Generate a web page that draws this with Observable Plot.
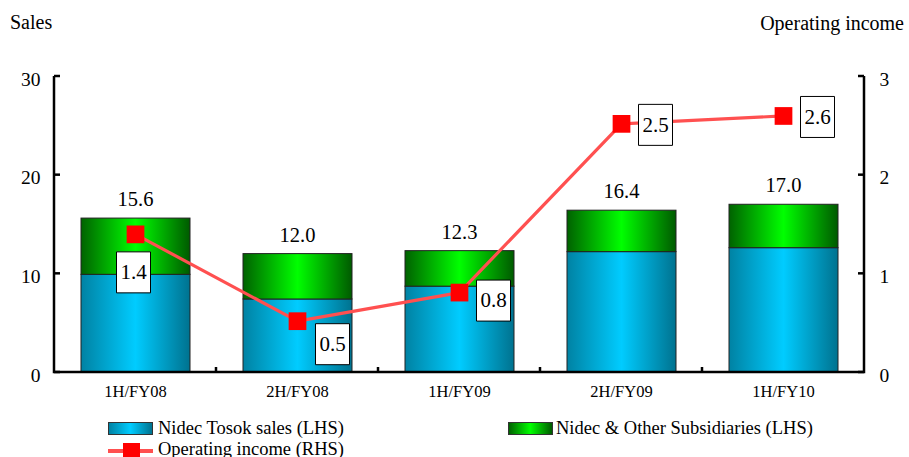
<!DOCTYPE html>
<html>
<head>
<meta charset="utf-8">
<script src="https://cdn.jsdelivr.net/npm/d3@7"></script>
<script src="https://cdn.jsdelivr.net/npm/@observablehq/plot@0.6"></script>
<style>
  body { margin: 0; background: #fff; }
  #wrap { position: relative; width: 909px; height: 457px; overflow: hidden;
          font-family: "Liberation Serif", "DejaVu Serif", serif; color: #000; }
  #wrap svg { position: absolute; left: 0; top: 0; }
  #wrap svg, #wrap svg text { font-family: "Liberation Serif", "DejaVu Serif", serif !important; }
  .t { position: absolute; line-height: 1; white-space: nowrap; font-family: "Liberation Serif", "DejaVu Serif", serif; }
  .hdr { font-size: 20px; }
  .leg { font-size: 18.5px; }
  .sw { position: absolute; box-sizing: border-box; border: 1px solid #333; }
</style>
</head>
<body>
<div id="wrap"></div>
<script>
// ---- data ----
const categories = ["1H/FY08", "2H/FY08", "1H/FY09", "2H/FY09", "1H/FY10"];
const tosokSales = [9.9, 7.4, 8.7, 12.2, 12.6];        // Nidec Tosok sales (LHS)
const totalSales = [15.6, 12.0, 12.3, 16.4, 17.0];     // total of stacked bar (LHS)
const operatingIncome = [1.4, 0.52, 0.81, 2.52, 2.6];  // Operating income (RHS)
const leftTicks = [0, 10, 20, 30];
const rightTicks = [0, 1, 2, 3];
const seriesNames = ["Nidec Tosok sales (LHS)", "Nidec & Other Subsidiaries (LHS)", "Operating income (RHS)"];
const axisTitles = ["Sales", "Operating income"];
const rhsFactor = 10; // right axis 0–3 is drawn on the left 0–30 scale

const data = categories.map((c, i) => ({
  cat: c, tosok: tosokSales[i], total: totalSales[i], op: operatingIncome[i]
}));

const serif = "Liberation Serif";
const blueStops = ["#0082a3", "#00ccff", "#00728f"];
const greenStops = ["#006200", "#00ff00", "#005a00"];
const lineColor = "#ff5050";

// gradients definition mark
function defs() {
  const g = d3.create("svg:defs");
  [["gBlue", blueStops], ["gGreen", greenStops]].forEach(([id, stops]) => {
    const lg = g.append("linearGradient").attr("id", id)
      .attr("x1", 0).attr("x2", 1).attr("y1", 0).attr("y2", 0);
    lg.append("stop").attr("offset", "0%").attr("stop-color", stops[0]);
    lg.append("stop").attr("offset", "50%").attr("stop-color", stops[1]);
    lg.append("stop").attr("offset", "100%").attr("stop-color", stops[2]);
  });
  return g.node();
}

// axis lines with inward ticks
function axes(index, scales, values, dims) {
  const {width, height, marginLeft, marginRight, marginBottom} = dims;
  const y = scales.y;
  const xl = marginLeft, xr = width - marginRight, yb = height - marginBottom;
  const step = (xr - xl) / categories.length;
  const g = d3.create("svg:g").attr("fill", "none").attr("stroke", "#000").attr("stroke-width", 2.5);
  g.append("path").attr("d", `M${xl},${y(leftTicks[leftTicks.length - 1])}V${yb}H${xr}V${y(rightTicks[rightTicks.length - 1] * rhsFactor)}`);
  leftTicks.forEach(v => g.append("path").attr("d", `M${xl},${y(v)}h6`));
  rightTicks.forEach(v => g.append("path").attr("d", `M${xr},${y(v * rhsFactor)}h-6`));
  for (let i = 1; i < categories.length; i++) {
    g.append("path").attr("d", `M${xl + i * step},${yb}v-5`);
  }
  return g.node();
}

const boxSymbol = { draw(ctx) { ctx.rect(-17, -20.5, 34, 41); } };
const opY = d => d.op * rhsFactor;
const labelGroups = [
  {idx: [0], dx: -2, dy: 38},
  {idx: [1], dx: 35, dy: 23},
  {idx: [2], dx: 34, dy: 8},
  {idx: [3, 4], dx: 34, dy: 1}
];

const chart = Plot.plot({
  width: 909,
  height: 457,
  marginLeft: 54,
  marginRight: 45,
  marginTop: 76,
  marginBottom: 85,
  x: {type: "band", domain: categories, padding: 0, axis: null},
  y: {domain: [0, 30], axis: null},
  style: {fontFamily: serif, background: "#fff", color: "#000"},
  marks: [
    defs,
    Plot.barY(data, {x: "cat", y1: () => 0, y2: "tosok", fill: "url(#gBlue)", stroke: "#222", strokeWidth: 1, insetLeft: 27, insetRight: 26}),
    Plot.barY(data, {x: "cat", y1: "tosok", y2: "total", fill: "url(#gGreen)", stroke: "#222", strokeWidth: 1, insetLeft: 27, insetRight: 26}),
    axes,
    Plot.text(data, {x: "cat", y: "total", text: d => d.total.toFixed(1), dy: -19, fontSize: 20.5, fontFamily: serif, fill: "#000"}),
    Plot.text(leftTicks, {y: d => d, frameAnchor: "left", text: d => String(d), dx: -14, dy: 3, textAnchor: "end", fontSize: 19.5, fontFamily: serif}),
    Plot.text(rightTicks, {y: d => d * rhsFactor, frameAnchor: "right", text: d => String(d), dx: 15, dy: 3, textAnchor: "start", fontSize: 19.5, fontFamily: serif}),
    Plot.text(data, {x: "cat", frameAnchor: "bottom", text: "cat", dy: 24, fontSize: 16.5, fontFamily: serif}),
    Plot.line(data, {x: "cat", y: opY, stroke: lineColor, strokeWidth: 3.2}),
    Plot.dot(data, {x: "cat", y: opY, symbol: "square", r: 10, fill: "#ff0000", stroke: "none"}),
    ...labelGroups.flatMap(gp => [
      Plot.dot(data, {x: "cat", y: opY, filter: (d, i) => gp.idx.includes(i), symbol: boxSymbol, fill: "#fff", stroke: "#000", strokeWidth: 1, dx: gp.dx, dy: gp.dy}),
      Plot.text(data, {x: "cat", y: opY, filter: (d, i) => gp.idx.includes(i), text: d => d.op.toFixed(1), dx: gp.dx, dy: gp.dy, fontSize: 21, fontFamily: serif, fill: "#000"})
    ])
  ]
});

const wrap = document.getElementById("wrap");
wrap.appendChild(chart);

function addText(txt, cls, css) {
  const d = document.createElement("div");
  d.className = "t " + cls;
  d.textContent = txt;
  Object.assign(d.style, css);
  wrap.appendChild(d);
}
addText(axisTitles[0], "hdr", {left: "10px", top: "12px"});
addText(axisTitles[1], "hdr", {right: "5px", top: "13px"});

function addSwatch(css) {
  const d = document.createElement("div");
  d.className = "sw";
  Object.assign(d.style, css);
  wrap.appendChild(d);
}
addSwatch({left: "108px", top: "422px", width: "45px", height: "13px",
  background: `linear-gradient(to right, ${blueStops[0]}, ${blueStops[1]}, ${blueStops[2]})`});
addText(seriesNames[0], "leg", {left: "158px", top: "418.5px"});
addSwatch({left: "508px", top: "422px", width: "45px", height: "13px",
  background: `linear-gradient(to right, ${greenStops[0]}, ${greenStops[1]}, ${greenStops[2]})`});
addText(seriesNames[1], "leg", {left: "556px", top: "418.5px"});
addSwatch({left: "108px", top: "449px", width: "45px", height: "3.5px", background: lineColor, border: "none"});
addSwatch({left: "123px", top: "442.5px", width: "17px", height: "17px", background: "#ff0000", border: "none"});
addText(seriesNames[2], "leg", {left: "158px", top: "439.5px"});
</script>
</body>
</html>
